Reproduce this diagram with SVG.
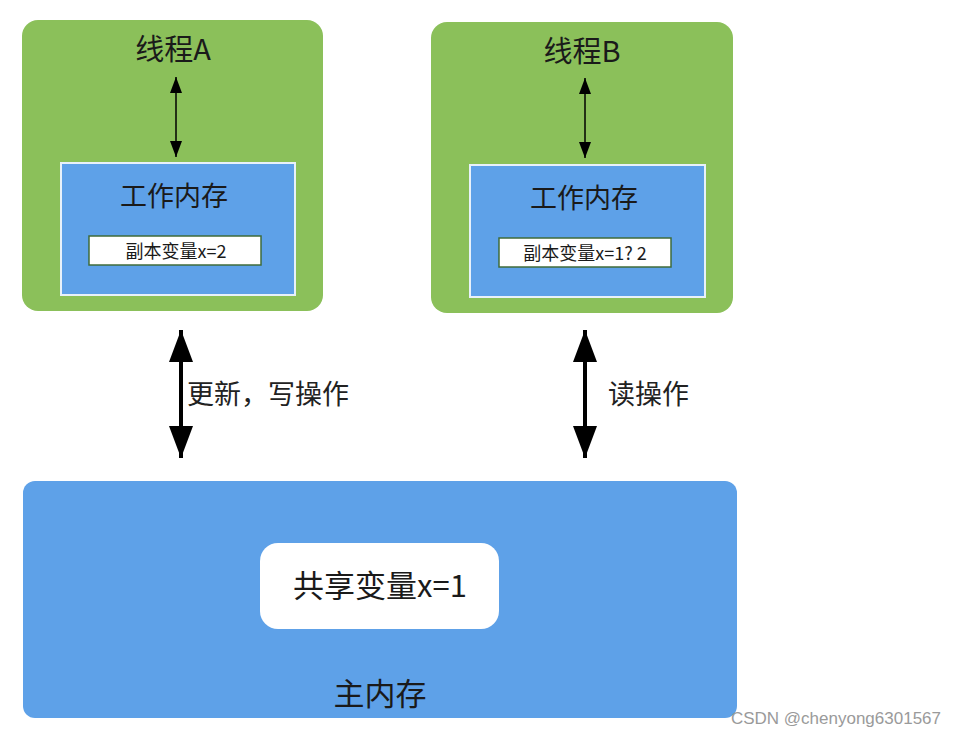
<svg xmlns="http://www.w3.org/2000/svg" width="956" height="738" viewBox="0 0 956 738">
<style>
.thread{fill:#8BC05A}
.work{fill:#5EA1E8;stroke:#E8F1FA;stroke-width:2}
.copy{fill:#fff;stroke:#3F6B3A;stroke-width:1.5}
.main{fill:#5EA1E8}
text{font-family:"Noto Sans CJK SC","Noto Sans",sans-serif;fill:#1a1a1a;text-anchor:middle}
.t30{font-size:29px}
.t28{font-size:27px}
.t18{font-size:18px}
.t32{font-size:31px}
.lbl{font-size:27px;text-anchor:start;fill:#222}
.thin{stroke:#000;stroke-width:1.5;fill:none}
.thick{stroke:#000;stroke-width:4;fill:none}
.wm{font-family:"Liberation Sans",sans-serif;font-size:17px;fill:#9a9a9a;text-anchor:end}
</style>
<defs>
<marker id="sa" markerWidth="16" markerHeight="12" refX="16" refY="6" orient="auto-start-reverse" markerUnits="userSpaceOnUse" viewBox="0 0 16 12"><path d="M0,0 L16,6 L0,12 Z" fill="#000"/></marker>
<marker id="ba" markerWidth="32" markerHeight="24" refX="32" refY="12" orient="auto-start-reverse" markerUnits="userSpaceOnUse" viewBox="0 0 32 24"><path d="M0,0 L32,12 L0,24 Z" fill="#000"/></marker>
</defs>
<g id="threadA">
<rect class="thread" x="22" y="20" width="301" height="291" rx="16"/>
<text class="t30" x="173" y="60">线程A</text>
<rect class="work" x="61" y="163" width="234" height="132"/>
<text class="t28" x="174" y="206">工作内存</text>
<rect class="copy" x="89" y="236" width="172" height="29"/>
<text class="t18" x="176" y="258">副本变量x=2</text>
</g>
<g id="threadB">
<rect class="thread" x="431" y="22" width="302" height="291" rx="16"/>
<text class="t30" x="582" y="62">线程B</text>
<rect class="work" x="470" y="165" width="235" height="132"/>
<text class="t28" x="584" y="208">工作内存</text>
<rect class="copy" x="499" y="238" width="172" height="29"/>
<text class="t18" x="585" y="260">副本变量x=1? 2</text>
</g>
<g id="mainMemory">
<rect class="main" x="23" y="481" width="714" height="237" rx="12"/>
<rect fill="#fff" x="260" y="543" width="239" height="86" rx="18"/>
<text class="t32" x="380" y="597">共享变量x=1</text>
<text class="t32" x="380" y="705">主内存</text>
</g>
<g id="connectors">
<line class="thin" x1="176" y1="77" x2="176" y2="157" marker-start="url(#sa)" marker-end="url(#sa)"/>
<line class="thin" x1="585" y1="78" x2="585" y2="158" marker-start="url(#sa)" marker-end="url(#sa)"/>
<line class="thick" x1="181" y1="330" x2="181" y2="458" marker-start="url(#ba)" marker-end="url(#ba)"/>
<line class="thick" x1="585" y1="330" x2="585" y2="458" marker-start="url(#ba)" marker-end="url(#ba)"/>
<text class="lbl" x="187" y="404">更新，写操作</text>
<text class="lbl" x="608" y="404">读操作</text>
</g>
<text class="wm" x="941" y="724">CSDN @chenyong6301567</text>
</svg>
